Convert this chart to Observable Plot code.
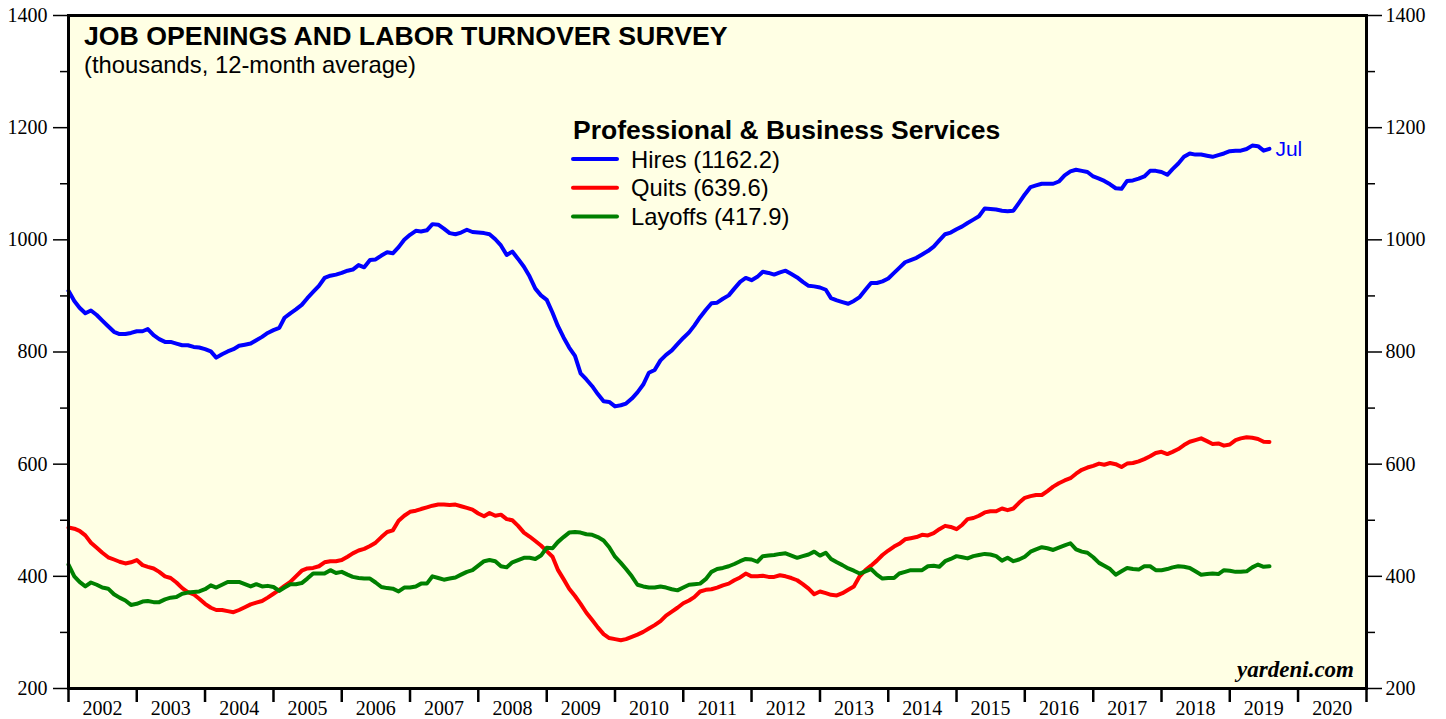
<!DOCTYPE html>
<html><head><meta charset="utf-8">
<script src="https://cdn.jsdelivr.net/npm/d3@7"></script>
<script src="https://cdn.jsdelivr.net/npm/@observablehq/plot@0.6"></script>
<style>
body{margin:0;background:#fff;}
#chart{position:relative;width:1446px;height:719px;}
</style>
</head><body><div id="chart"></div>
<script>
// Monthly 12-month averages, thousands. First value = Dec 2001, last = Jul 2019 (plotted at month end)
const hires = [909,891,879,869,874,866,856,846,836,832,832,834,837,837,841,830,823,818,818,815,812,812,809,808,805,801,790,796,801,805,811,813,815,821,827,834,839,843,861,869,876,884,896,907,918,932,936,938,941,945,947,955,951,964,965,972,978,976,987,1000,1009,1016,1015,1017,1028,1027,1020,1012,1010,1013,1018,1014,1013,1012,1010,1001,990,973,979,966,952,935,913,901,893,870,847,826,808,793,762,751,739,725,712,711,703,705,708,717,728,742,763,768,785,795,803,814,825,835,847,862,875,887,888,895,901,913,925,932,928,934,943,941,938,942,945,939,933,925,918,917,915,911,896,892,889,886,891,898,911,923,923,926,931,941,950,960,964,968,974,980,988,999,1010,1013,1019,1024,1030,1036,1042,1056,1055,1054,1052,1051,1052,1066,1081,1094,1097,1100,1100,1100,1104,1115,1122,1125,1123,1121,1113,1109,1105,1099,1092,1091,1105,1106,1109,1113,1123,1123,1121,1116,1126,1136,1148,1154,1152,1152,1150,1148,1151,1154,1158,1159,1159,1162,1168,1167,1159,1162.2];
const quits = [487,485,481,473,460,451,442,434,430,426,423,425,429,420,417,414,408,400,397,389,379,372,368,360,351,344,340,340,338,336,340,345,350,353,356,362,369,376,383,390,400,410,414,415,418,425,427,427,429,435,441,446,449,454,460,470,479,482,499,508,515,517,520,523,526,528,528,527,528,525,522,519,512,507,513,508,510,502,500,490,478,471,463,455,445,435,412,395,378,365,351,335,322,309,297,290,288,286,288,292,296,301,307,313,320,330,337,344,352,357,363,373,376,377,380,384,387,393,398,405,400,400,401,399,399,402,400,397,393,386,378,368,373,370,367,366,370,376,382,400,411,419,428,438,446,453,458,466,468,470,474,473,477,484,490,488,484,492,502,504,508,514,516,516,521,518,521,531,540,543,545,545,552,560,566,571,575,583,590,594,597,601,599,602,600,595,601,602,605,609,614,620,622,618,622,627,634,640,643,646,641,636,637,633,635,643,646,648,647,645,640,639.6];
const layoffs = [421,400,390,382,389,385,380,378,368,362,357,349,351,355,356,354,354,359,362,363,369,371,372,373,377,384,380,385,390,390,390,386,382,386,382,383,381,374,380,386,386,388,396,405,405,405,411,406,408,403,399,397,396,396,389,381,379,378,373,380,380,382,387,387,400,397,394,396,398,403,408,411,419,427,429,427,418,416,425,429,433,433,431,437,451,450,461,470,478,479,478,475,474,470,464,452,435,424,413,400,385,382,380,380,382,380,377,375,380,385,386,387,395,408,413,415,418,422,427,431,430,426,436,437,438,440,441,437,433,436,439,444,437,442,431,425,420,414,410,405,409,413,403,396,397,397,405,408,411,411,411,418,419,417,427,431,436,434,432,436,438,440,439,436,428,433,427,430,435,444,448,452,450,447,451,455,459,448,444,442,434,424,419,413,403,409,415,413,412,418,418,411,411,413,416,418,417,415,409,403,404,405,404,411,410,408,408,409,416,421,417,417.9];

const seriesNames = ["Hires", "Quits", "Layoffs"];
const seriesColors = ["#0000ff", "#ff0000", "#008000"];
const latestValues = ["1162.2", "639.6", "417.9"];
const lastMonthLabel = "Jul";
const chartTitle = "JOB OPENINGS AND LABOR TURNOVER SURVEY";
const chartSubtitle = "(thousands, 12-month average)";
const legendTitle = "Professional & Business Services";
const credit = "yardeni.com";
const yMajor = [200, 400, 600, 800, 1000, 1200, 1400];
const yMinor = [300, 500, 700, 900, 1100, 1300];
const years = d3.range(2002, 2021);

// build table
const firstDate = new Date(Date.UTC(2002, 0, 1)); // end of Dec 2001
const rows = [];
[hires, quits, layoffs].forEach((arr, k) => arr.forEach((v, i) => rows.push({date: d3.utcMonth.offset(firstDate, i), value: v, series: seriesNames[k]})));
const lastHire = rows.filter(d => d.series === "Hires").slice(-1);

const yearStarts = years.concat([2021]).map(y => new Date(Date.UTC(y, 0, 1)));
const yearMids = years.map(y => new Date(Date.UTC(y, 6, 2)));

const serif = "'Liberation Serif', 'Times New Roman', serif";
const sans = "'Liberation Sans', Arial, sans-serif";
const plain = d => String(d);

const chart = Plot.plot({
  width: 1446, height: 719,
  marginLeft: 68, marginRight: 80, marginTop: 15, marginBottom: 31,
  style: {background: "#ffffff", overflow: "visible"},
  x: {type: "utc", domain: [new Date(Date.UTC(2002, 0, 1)), new Date(Date.UTC(2021, 0, 1))], label: null},
  y: {domain: [200, 1400], label: null},
  color: {domain: seriesNames, range: seriesColors},
  marks: [
    Plot.frame({fill: "#ffffe4", stroke: null}),
    Plot.axisY({anchor: "left", label: null, ticks: yMajor, tickSize: 15, tickPadding: 6, tickFormat: plain, fontSize: 20, fontFamily: serif, strokeWidth: 1.5, fill: "#000"}),
    Plot.axisY({anchor: "left", label: null, ticks: yMinor, tickSize: 8, tickFormat: () => "", strokeWidth: 1.5}),
    Plot.axisY({anchor: "right", label: null, ticks: yMajor, tickSize: 15, tickPadding: 4, tickFormat: plain, fontSize: 20, fontFamily: serif, strokeWidth: 1.5, fill: "#000"}),
    Plot.axisY({anchor: "right", label: null, ticks: yMinor, tickSize: 8, tickFormat: () => "", strokeWidth: 1.5}),
    Plot.axisX({label: null, ticks: yearStarts, tickSize: 14, tickFormat: () => "", strokeWidth: 2.5}),
    Plot.axisX({label: null, ticks: yearMids, tickSize: 0, tickPadding: 12, tickFormat: d3.utcFormat("%Y"), fontSize: 20, fontFamily: serif, fill: "#000"}),
    Plot.line(rows, {x: "date", y: "value", z: "series", stroke: "series", strokeWidth: 4, strokeLinejoin: "round", strokeLinecap: "round"}),
    Plot.text(lastHire, {x: "date", y: "value", text: () => lastMonthLabel, textAnchor: "start", dx: 6, fill: "#0000ff", fontSize: 21, fontFamily: sans}),
    Plot.frame({stroke: "#000", strokeWidth: 3})
  ]
});
document.getElementById("chart").appendChild(chart);

// Titles, legend, credit drawn as SVG text on top of the plot
const svg = d3.select(chart);
const g = svg.append("g").attr("text-anchor", "start");
g.append("text").attr("x", 84).attr("y", 45).attr("text-anchor", "start").attr("font-family", sans).attr("font-weight", "bold").attr("font-size", 26.7).attr("fill", "#000").text(chartTitle);
g.append("text").attr("x", 84).attr("y", 73).attr("text-anchor", "start").attr("font-family", sans).attr("font-size", 23.8).attr("fill", "#000").text(chartSubtitle);
g.append("text").attr("x", 573).attr("y", 139).attr("text-anchor", "start").attr("font-family", sans).attr("font-weight", "bold").attr("font-size", 26.5).attr("fill", "#000").text(legendTitle);
seriesNames.forEach((name, i) => {
  const yy = 159 + i * 28.7;
  g.append("line").attr("x1", 573).attr("x2", 617).attr("y1", yy).attr("y2", yy).attr("stroke", seriesColors[i]).attr("stroke-width", 4).attr("stroke-linecap", "round");
  g.append("text").attr("x", 631).attr("y", yy + 8.5).attr("text-anchor", "start").attr("font-family", sans).attr("font-size", 23.8).attr("fill", "#000").text(`${name} (${latestValues[i]})`);
});
g.append("text").attr("x", 1354).attr("y", 677).attr("text-anchor", "end").attr("font-family", serif).attr("font-weight", "bold").attr("font-style", "italic").attr("font-size", 23).attr("fill", "#000").text(credit);
</script>
</body></html>
